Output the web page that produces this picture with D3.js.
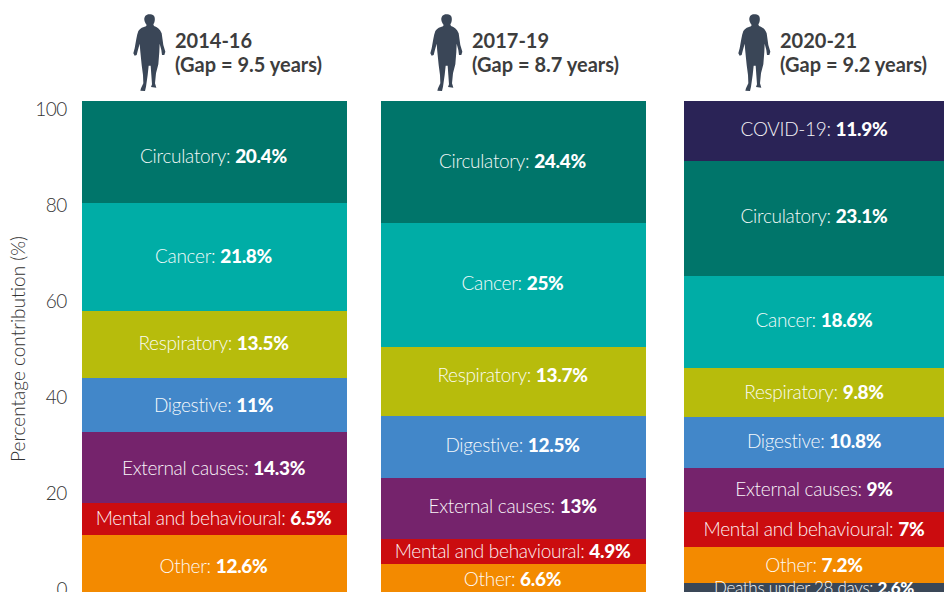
<!DOCTYPE html>
<html><head><meta charset="utf-8">
<script src="https://cdnjs.cloudflare.com/ajax/libs/d3/7.8.5/d3.min.js"></script>
<style>html,body{margin:0;padding:0;background:#fff;overflow:hidden}svg{display:block}</style>
</head><body><svg id="c" width="944" height="592"></svg>
<script>
const periods=["2014-16","2017-19","2020-21"];
const gaps=["(Gap = 9.5 years)","(Gap = 8.7 years)","(Gap = 9.2 years)"];
const causes1=["Circulatory","Cancer","Respiratory","Digestive","External causes","Mental and behavioural","Other"];
const labels1=["20.4%","21.8%","13.5%","11%","14.3%","6.5%","12.6%"];
const values1=[20.4,21.6,13.3,10.8,14.3,6.3,12.6];
const causes2=["Circulatory","Cancer","Respiratory","Digestive","External causes","Mental and behavioural","Other"];
const labels2=["24.4%","25%","13.7%","12.5%","13%","4.9%","6.6%"];
const values2=[24.4,24.8,13.8,12.3,12.3,5.0,6.6];
const causes3=["COVID-19","Circulatory","Cancer","Respiratory","Digestive","External causes","Mental and behavioural","Other","Deaths under 28 days"];
const labels3=["11.9%","23.1%","18.6%","9.8%","10.8%","9%","7%","7.2%","2.6%"];
const values3=[12,23,18.4,9.8,10.2,8.8,7,7.2,2.6];
const colours={"COVID-19":"#2a2356","Circulatory":"#00756a","Cancer":"#00ada6","Respiratory":"#b7bc0c","Digestive":"#4287c9","External causes":"#75236c","Mental and behavioural":"#cb0c0f","Other":"#f38a00","Deaths under 28 days":"#3a4757"};
const ticks=[0,20,40,60,80,100];
const axisTitle="Percentage contribution (%)";

const FONT="Lato, 'Open Sans', sans-serif";
const svg=d3.select("#c");
const barY=d3.scaleLinear().domain([0,100]).range([601,101]);
const axisY=d3.scaleLinear().domain([0,100]).range([589,109]);
const columns=[
 {x0:82,x1:347,causes:causes1,labels:labels1,values:values1,iconX:130,textX:175,shift:-1,nudge:[4,-1,-1,1,1,0,0]},
 {x0:381,x1:646,causes:causes2,labels:labels2,values:values2,iconX:427,textX:472,shift:-1,nudge:[-1,-2,-6,-1,-2,0,-1]},
 {x0:684,x1:944,causes:causes3,labels:labels3,values:values3,iconX:735,textX:780,shift:0,nudge:[-2,-2,-2,0,-1,-1,0,0,-1]}
];
const iconPath="M58,28C48,28 42,35 43,45C44,52 47,56 50,60L48,64C40,66 30,70 25,78C20,90 18,110 14,130L10,145L14,152L20,150L23,138L29,116L31,140L35,180L39,210L40,235L33,250L31,257L45,258L48,245L53,210L56,182L62,182L64,210L66,238L63,246L79,248L75,235L78,205L85,178L88,140L89,116L94,135L96,150L103,150L106,140L100,120L95,85C90,72 82,66 72,63L70,58C76,50 76,35 70,31C66,28 62,27 58,28Z";

columns.forEach((col,i)=>{
  let acc=100;
  const segs=col.causes.map((c,j)=>{const top=acc;acc-=col.values[j];return {c,label:col.labels[j],top,bottom:acc,n:col.nudge[j]};});
  const g=svg.append("g");
  g.selectAll("rect").data(segs).join("rect")
    .attr("x",col.x0).attr("width",col.x1-col.x0)
    .attr("y",d=>barY(d.top)).attr("height",d=>barY(d.bottom)-barY(d.top))
    .attr("fill",d=>colours[d.c]).attr("shape-rendering","crispEdges");
  const t=g.selectAll("text").data(segs).join("text")
    .attr("x",(col.x0+col.x1)/2+col.shift)
    .attr("y",d=>(barY(d.top)+barY(d.bottom))/2+d.n)
    .attr("dy","0.35em").attr("text-anchor","middle")
    .attr("fill","#fff").attr("font-family",FONT)
    .attr("font-size",d=>d.c==="Deaths under 28 days"?17:19).attr("letter-spacing",-0.3);
  t.append("tspan").attr("font-weight",300).attr("opacity",0.95).text(d=>d.c+": ");
  t.append("tspan").attr("font-weight",900).text(d=>d.label);
  svg.append("path").attr("d",iconPath).attr("fill","#3a4657")
    .attr("transform",`translate(${col.iconX},5) scale(${1/3})`);
  svg.append("text").attr("x",col.textX).attr("y",48).attr("font-family",FONT).attr("font-weight",700).attr("font-size",20).attr("fill","#3d3d3d").text(periods[i]);
  svg.append("text").attr("x",col.textX).attr("y",72).attr("font-family",FONT).attr("font-weight",700).attr("font-size",20).attr("fill","#3d3d3d").text(gaps[i]);
});

const axis=d3.axisLeft(axisY).tickValues(ticks).tickSize(0).tickPadding(0);
const ag=svg.append("g").attr("transform","translate(67,0)").call(axis);
ag.select(".domain").remove();
ag.selectAll("text").attr("font-family",FONT).attr("font-weight",300).attr("font-size",19).attr("fill","#333").attr("letter-spacing",-0.4);
svg.append("text").attr("transform","translate(25,349) rotate(-90)").attr("text-anchor","middle")
  .attr("font-family",FONT).attr("font-weight",300).attr("font-size",19).attr("fill","#333").text(axisTitle);
</script></body></html>
